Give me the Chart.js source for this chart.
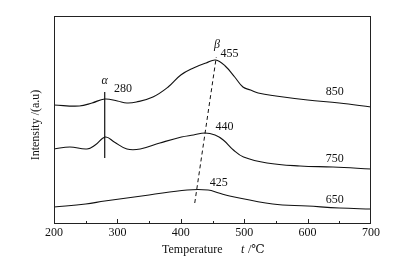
<!DOCTYPE html>
<html>
<head>
<meta charset="utf-8">
<script src="https://cdn.jsdelivr.net/npm/chart.js@4"></script>
<style>
  body { margin: 0; background: #fff; }
  #wrap { width: 398px; height: 265px; }
</style>
</head>
<body>
<div id="wrap"><canvas id="grafico"></canvas></div>
<script>
// dados (intensidade em unidades arbitrarias)
var temp850 = [200, 240, 260, 280, 300, 315, 330, 356, 380, 400, 420, 440, 455, 470, 485, 498, 510, 522, 550, 600, 650, 700]
var int850 = [119, 118, 121, 125, 123, 121, 122, 127, 137, 149, 156, 161, 164, 158, 147, 137, 134, 131, 128, 124, 121, 117]

var temp750 = [200, 225, 252, 265, 281, 295, 315, 336, 367, 401, 420, 438, 454, 467, 483, 499, 536, 588, 640, 700]
var int750 = [75, 77, 75, 79, 87, 82, 75, 75, 81, 87, 89, 91, 89, 84, 74, 67, 61, 58, 57, 55]

var temp650 = [200, 250, 280, 350, 410, 443, 460, 477, 545, 600, 650, 700]
var int650 = [17, 20, 23, 29, 34, 34, 31, 28, 20, 18, 16, 15]

var alphaLinha = [{ x: 280, y: 132 }, { x: 280, y: 66 }]
var betaLinha = [{ x: 422, y: 21 }, { x: 456, y: 167 }]

var rotulos = [
    { texto: 'α', x: 280, y: 143, italico: true },
    { texto: '280', x: 309, y: 135 },
    { texto: 'β', x: 457, y: 179, italico: true },
    { texto: '455', x: 477, y: 170 },
    { texto: '850', x: 643, y: 132 },
    { texto: '440', x: 469, y: 97 },
    { texto: '750', x: 643, y: 65 },
    { texto: '425', x: 460, y: 41 },
    { texto: '650', x: 643, y: 24 }
]

var fonte = '"Liberation Serif", "DejaVu Serif", serif'

function pontos(xs, ys) {
    return xs.map(function (x, i) { return { x: x, y: ys[i] } })
}

function curva(xs, ys) {
    return {
        data: pontos(xs, ys),
        borderColor: '#111',
        borderWidth: 1.1,
        pointRadius: 0,
        fill: false,
        tension: 0.4
    }
}

var moldura = {
    id: 'moldura',
    afterDraw: function (chart) {
        var c = chart.ctx
        var a = chart.chartArea
        var sx = chart.scales.x
        var sy = chart.scales.y
        c.save()
        c.strokeStyle = '#222'
        c.lineWidth = 1
        c.strokeRect(a.left + 0.5, a.top + 0.5, a.right - a.left - 1, a.bottom - a.top - 1)
        // ticks para dentro
        for (var t = 250; t < 700; t += 50) {
            var px = Math.round(sx.getPixelForValue(t)) + 0.5
            var len = (t % 100 === 0) ? 5 : 3
            c.beginPath()
            c.moveTo(px, a.bottom)
            c.lineTo(px, a.bottom - len)
            c.stroke()
        }
        c.fillStyle = '#111'
        c.textAlign = 'center'
        c.textBaseline = 'middle'
        rotulos.forEach(function (r) {
            c.font = (r.italico ? 'italic ' : '') + '12px ' + fonte
            c.fillText(r.texto, sx.getPixelForValue(r.x), sy.getPixelForValue(r.y))
        })
        // titulo do eixo x
        c.textAlign = 'left'
        c.font = '12px ' + fonte
        c.fillText('Temperature', 162, 250)
        c.font = 'italic 12px ' + fonte
        c.fillText('t', 241, 250)
        c.font = '12px ' + fonte
        c.fillText(' /℃', 245, 250)
        // titulo do eixo y
        c.translate(36, 125)
        c.rotate(-Math.PI / 2)
        c.textAlign = 'center'
        c.fillText('Intensity /(a.u)', 0, 0)
        c.restore()
    }
}

var ctx = document.getElementById('grafico')
var grafico = new Chart(ctx, {
    type: 'line',
    data: {
        datasets: [
            curva(temp850, int850),
            curva(temp750, int750),
            curva(temp650, int650),
            {
                data: alphaLinha,
                borderColor: '#111',
                borderWidth: 1.2,
                pointRadius: 0
            },
            {
                data: betaLinha,
                borderColor: '#111',
                borderWidth: 1,
                borderDash: [4, 3],
                pointRadius: 0
            }
        ]
    },
    options: {
        responsive: true,
        maintainAspectRatio: false,
        animation: false,
        layout: { padding: { left: 54, right: 27, top: 16, bottom: 0 } },
        plugins: {
            legend: { display: false },
            tooltip: { enabled: false }
        },
        scales: {
            x: {
                type: 'linear',
                min: 200,
                max: 700,
                grid: { display: false, drawTicks: false, tickLength: 0 },
                border: { display: false },
                ticks: {
                    stepSize: 100,
                    padding: 2,
                    color: '#111',
                    font: { family: fonte, size: 12 }
                },
                afterFit: function (s) { s.height = 41 }
            },
            y: {
                display: false,
                min: 0,
                max: 208
            }
        }
    },
    plugins: [moldura]
})
</script>
</body>
</html>
